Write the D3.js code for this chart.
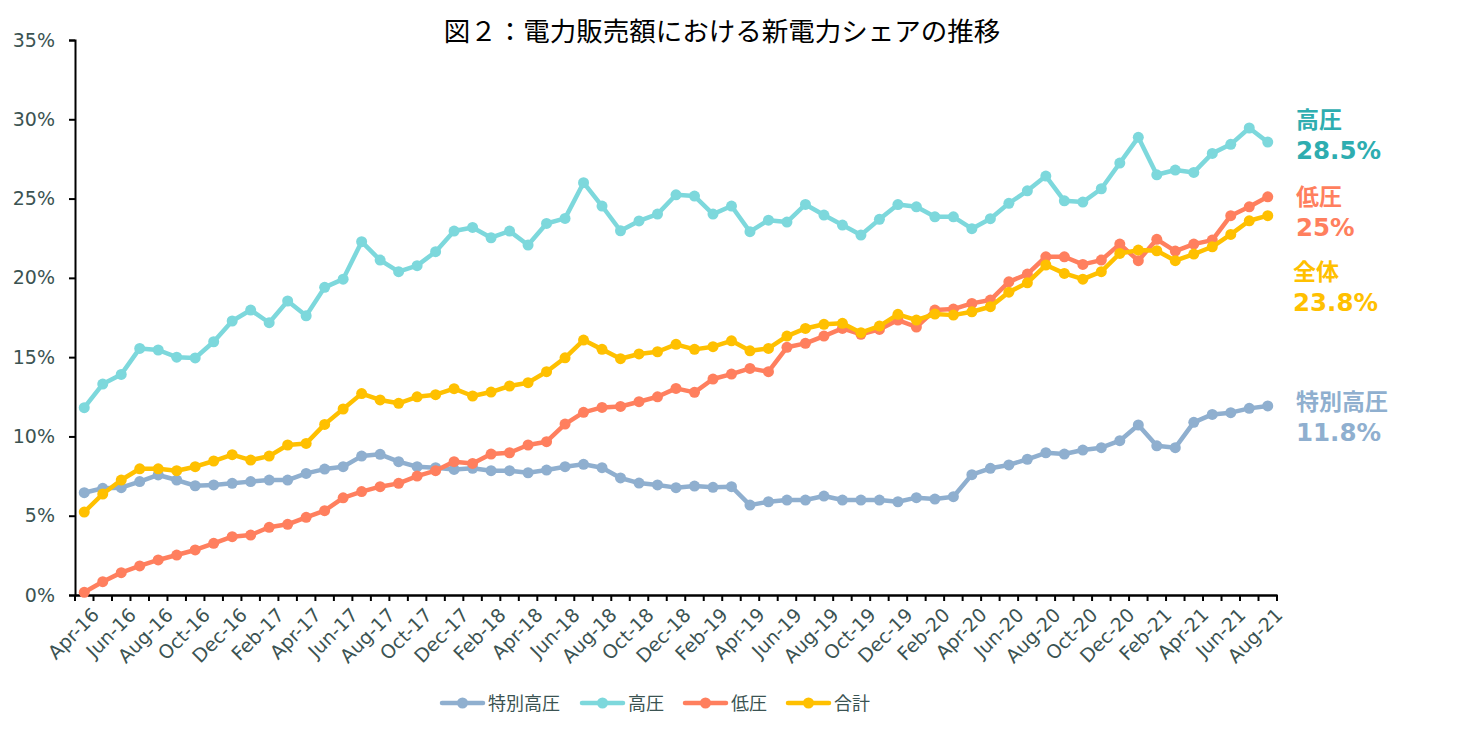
<!DOCTYPE html>
<html><head><meta charset="utf-8">
<script src="https://cdn.jsdelivr.net/npm/d3@7"></script>
<style>
html,body{margin:0;padding:0;background:#fff;}
svg{display:block;}
</style></head>
<body>
<svg id="chart" width="1469" height="734"></svg>
<script>
const months = ["Apr-16","May-16","Jun-16","Jul-16","Aug-16","Sep-16","Oct-16","Nov-16","Dec-16","Jan-17","Feb-17","Mar-17",
"Apr-17","May-17","Jun-17","Jul-17","Aug-17","Sep-17","Oct-17","Nov-17","Dec-17","Jan-18","Feb-18","Mar-18",
"Apr-18","May-18","Jun-18","Jul-18","Aug-18","Sep-18","Oct-18","Nov-18","Dec-18","Jan-19","Feb-19","Mar-19",
"Apr-19","May-19","Jun-19","Jul-19","Aug-19","Sep-19","Oct-19","Nov-19","Dec-19","Jan-20","Feb-20","Mar-20",
"Apr-20","May-20","Jun-20","Jul-20","Aug-20","Sep-20","Oct-20","Nov-20","Dec-20","Jan-21","Feb-21","Mar-21",
"Apr-21","May-21","Jun-21","Jul-21","Aug-21"];

const seriesNames = ["特別高圧","高圧","低圧","合計"];

const tokubetsuKoatsu = [6.45,6.73,6.77,7.15,7.57,7.25,6.89,6.94,7.04,7.15,7.25,7.25,
7.67,7.94,8.09,8.76,8.87,8.41,8.09,8.03,7.92,7.99,7.84,7.84,
7.71,7.88,8.09,8.24,8.03,7.38,7.06,6.94,6.77,6.87,6.79,6.83,
5.67,5.88,5.99,5.99,6.24,5.99,5.99,5.99,5.88,6.14,6.05,6.20,
7.59,7.99,8.20,8.56,8.97,8.89,9.14,9.29,9.73,10.72,9.41,9.29,
10.89,11.39,11.50,11.77,11.92];

const koatsu = [11.81,13.30,13.91,15.55,15.45,15.00,14.95,15.97,17.28,17.97,17.17,18.54,
17.61,19.40,19.92,22.28,21.12,20.39,20.77,21.65,22.95,23.18,22.53,22.95,
22.07,23.43,23.75,26.00,24.53,22.97,23.59,24.02,25.24,25.16,24.02,24.53,
22.91,23.64,23.52,24.63,23.96,23.33,22.70,23.69,24.62,24.48,23.85,23.85,
23.10,23.73,24.70,25.49,26.42,24.86,24.78,25.62,27.24,28.86,26.50,26.80,
26.65,27.85,28.42,29.45,28.56];

const teiatsu = [0.17,0.84,1.41,1.83,2.21,2.52,2.84,3.26,3.68,3.78,4.27,4.46,
4.90,5.32,6.13,6.52,6.83,7.04,7.50,7.84,8.41,8.30,8.89,8.97,
9.46,9.67,10.78,11.52,11.83,11.89,12.19,12.50,13.03,12.78,13.62,13.93,
14.29,14.08,15.62,15.87,16.33,16.81,16.44,16.75,17.34,16.90,17.97,18.03,
18.39,18.60,19.75,20.24,21.33,21.33,20.85,21.12,22.13,21.08,22.43,21.69,
22.13,22.38,23.92,24.48,25.11];

const goukei = [5.23,6.37,7.25,7.96,7.96,7.84,8.09,8.45,8.85,8.51,8.76,9.46,
9.56,10.76,11.73,12.70,12.30,12.09,12.50,12.63,13.01,12.55,12.80,13.18,
13.39,14.08,14.96,16.08,15.49,14.90,15.20,15.34,15.81,15.49,15.66,16.03,
15.40,15.55,16.33,16.81,17.07,17.13,16.54,16.96,17.70,17.34,17.72,17.65,
17.86,18.18,19.10,19.69,20.81,20.28,19.92,20.39,21.54,21.75,21.71,21.08,
21.50,21.96,22.74,23.60,23.92];

const yTicks = [0,5,10,15,20,25,30,35];

const endLabelNames = ["特別高圧","高圧","低圧","全体"];
const endLabelValues = ["11.8%","28.5%","25%","23.8%"];

const title = "図２：電力販売額における新電力シェアの推移";

const lineColors = ["#8FAFCF","#7DD8DC","#FF7F5E","#FFC000"];
const labelColors = ["#8FAFCF","#2EADB0","#FF7F5E","#FFC000"];
const axisTextColor = "#3B5352";

const data = [tokubetsuKoatsu, koatsu, teiatsu, goukei];

const svg = d3.select("#chart");
const plotLeft = 75, plotRight = 1277, plotTop = 40, plotBottom = 595;

const x = d3.scaleBand().domain(months).range([plotLeft, plotRight]).padding(0);
const y = d3.scaleLinear().domain([0, 35]).range([plotBottom, plotTop]);
const cx = m => x(m) + x.bandwidth() / 2;

// Title
svg.append("text")
  .attr("x", 722).attr("y", 41)
  .attr("text-anchor", "middle")
  .attr("font-family", "'Noto Sans CJK JP', sans-serif")
  .attr("font-size", 26.5)
  .attr("fill", "#000")
  .text(title);

// Y axis
const yAxis = svg.append("g")
  .attr("transform", `translate(${plotLeft},0)`)
  .call(d3.axisLeft(y).tickValues(yTicks).tickFormat(d => d + "%").tickSize(6).tickPadding(14));
yAxis.select(".domain").attr("stroke", "#000").attr("stroke-width", 2);
yAxis.selectAll(".tick line").attr("stroke", "#000").attr("stroke-width", 2);
yAxis.selectAll(".tick text")
  .attr("font-family", "'DejaVu Sans', Verdana, sans-serif")
  .attr("font-size", 19)
  .attr("fill", axisTextColor);

// X axis
const xAxis = svg.append("g")
  .attr("transform", `translate(0,${plotBottom})`)
  .call(d3.axisBottom(x).tickSize(0).tickFormat(""));
xAxis.select(".domain").attr("stroke", "#000").attr("stroke-width", 2.5);
const edges = months.map(m => x(m)).concat([x.range()[1]]);
xAxis.selectAll("line.edge").data(edges).enter().append("line")
  .attr("class", "edge")
  .attr("x1", d => d).attr("x2", d => d)
  .attr("y1", 0).attr("y2", 6)
  .attr("stroke", "#000").attr("stroke-width", 2);
xAxis.selectAll("text.mlab").data(months.filter((m, i) => i % 2 === 0)).enter().append("text")
  .attr("class", "mlab")
  .attr("transform", m => `translate(${cx(m) + 6},${11}) rotate(-45)`)
  .attr("text-anchor", "end")
  .attr("dy", "0.75em")
  .attr("font-family", "'DejaVu Sans', Verdana, sans-serif")
  .attr("font-size", 19)
  .attr("fill", axisTextColor)
  .text(m => m);

// Series
const line = d3.line().x((d, i) => cx(months[i])).y(d => y(d));
data.forEach((vals, s) => {
  const g = svg.append("g");
  g.append("path")
    .datum(vals)
    .attr("d", line)
    .attr("fill", "none")
    .attr("stroke", lineColors[s])
    .attr("stroke-width", 4.5)
    .attr("stroke-linejoin", "round");
  g.selectAll("circle").data(vals).enter().append("circle")
    .attr("cx", (d, i) => cx(months[i]))
    .attr("cy", d => y(d))
    .attr("r", 5.5)
    .attr("fill", lineColors[s]);
});

// End labels
const endPos = [[1296, 410], [1296, 128], [1296, 205], [1293, 280]];
endLabelNames.forEach((n, s) => {
  const t = svg.append("text")
    .attr("x", endPos[s][0]).attr("y", endPos[s][1])
    .attr("font-family", "'DejaVu Sans', 'Noto Sans CJK JP', sans-serif")
    .attr("font-weight", "bold")
    .attr("font-size", 24.5)
    .attr("fill", labelColors[s]);
  t.append("tspan").attr("x", endPos[s][0]).attr("font-family", "'Noto Sans CJK JP', sans-serif").attr("font-size", 23).text(n);
  t.append("tspan").attr("x", endPos[s][0]).attr("dy", 31).text(endLabelValues[s]);
});

// Legend
const legendX = [442, 582, 685, 788];
const legend = svg.append("g");
seriesNames.forEach((n, s) => {
  const lx = legendX[s], ly = 703;
  legend.append("line")
    .attr("x1", lx).attr("x2", lx + 41).attr("y1", ly).attr("y2", ly)
    .attr("stroke", lineColors[s]).attr("stroke-width", 4.5).attr("stroke-linecap", "round");
  legend.append("circle").attr("cx", lx + 20.5).attr("cy", ly).attr("r", 5.5).attr("fill", lineColors[s]);
  legend.append("text")
    .attr("x", lx + 46).attr("y", ly + 6.5)
    .attr("font-family", "'Noto Sans CJK JP', sans-serif")
    .attr("font-size", 18)
    .attr("fill", axisTextColor)
    .text(n);
});
</script>
</body></html>
